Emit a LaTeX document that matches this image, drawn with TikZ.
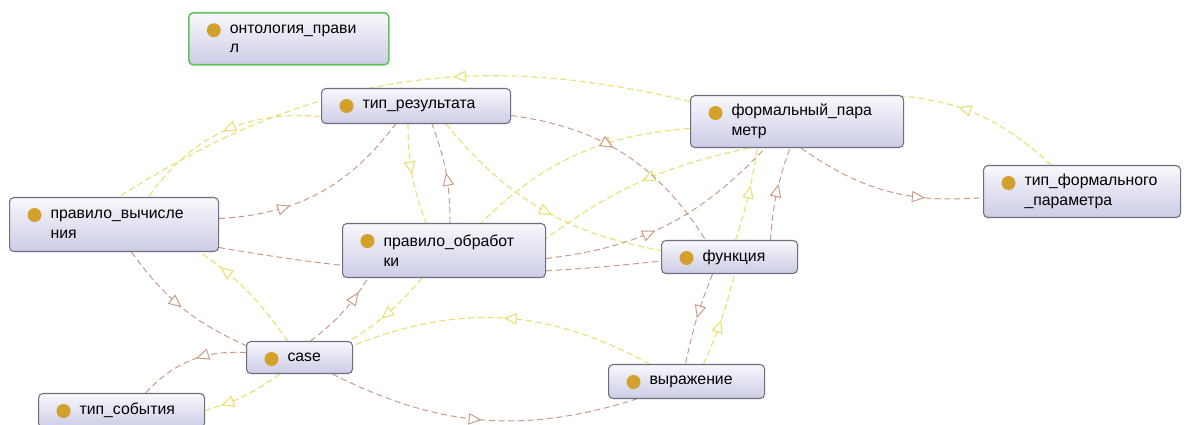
\documentclass[tikz,border=0pt]{standalone}
\usepackage{fontspec}
\setmainfont{Liberation Sans}
\usetikzlibrary{arrows.meta, decorations.markings}
\definecolor{dotgold}{RGB}{212,160,44}
\definecolor{boxtop}{RGB}{248,248,252}
\definecolor{boxbottom}{RGB}{204,204,230}
\definecolor{boxline}{RGB}{110,110,128}
\definecolor{rootline}{RGB}{96,196,96}
\definecolor{isabrown}{RGB}{200,154,134}
\definecolor{propyellow}{RGB}{236,224,118}
\newdimen\pxd \pxd=0.02cm
\pgfdeclarelayer{edges}
\pgfsetlayers{edges,main}
\hyphenpenalty=10000

\begin{document}
\begin{tikzpicture}[x=0.02cm, y=0.02cm,
    class box/.style={draw=boxline, line width=0.6pt, rounded corners=2.5pt,
        top color=boxtop, bottom color=boxbottom, inner sep=0pt,
        anchor=north west, align=left, font=\fontsize{9}{11.3}\selectfont,
        path picture={\fill[dotgold] ([shift={(25,-17.5)}]path picture bounding box.north west) circle (7);}},
    root box/.style={class box, draw=rootline, line width=0.9pt},
    isa edge/.style={isabrown, line width=0.55pt, dash pattern=on 3.5pt off 2pt},
    prop edge/.style={propyellow, line width=0.65pt, dash pattern=on 3.5pt off 2pt},
    tip at/.style={postaction={decorate}, decoration={markings,
        mark=at position #1 with {\arrow{Triangle[length=7.5pt, width=6.5pt, fill=white]}}}},
    tip at/.default=0.5]
    \useasboundingbox (0,0) rectangle (1187,-425);

    \node[root box, minimum width=200\pxd, minimum height=52\pxd, text width=118\pxd] (ontology) at (188,-12) {онтология\_прави\\л};
    \node[class box, minimum width=189\pxd, minimum height=35\pxd, text width=107\pxd] (restype) at (321,-88) {тип\_результата};
    \node[class box, minimum width=213\pxd, minimum height=52\pxd, text width=131\pxd] (formparam) at (690,-95) {формальный\_пара\\метр};
    \node[class box, minimum width=197\pxd, minimum height=52\pxd, text width=115\pxd] (formtype) at (983,-165) {тип\_формального\\\_параметра};
    \node[class box, minimum width=209\pxd, minimum height=54\pxd, text width=127\pxd] (calcrule) at (9,-197) {правило\_вычисле\\ния};
    \node[class box, minimum width=203\pxd, minimum height=54\pxd, text width=121\pxd] (procrule) at (342,-223) {правило\_обработ\\ки};
    \node[class box, minimum width=136\pxd, minimum height=33\pxd, text width=54\pxd] (func) at (661,-240) {функция};
    \node[class box, minimum width=106\pxd, minimum height=32\pxd, text width=24\pxd] (case) at (246,-341) {case};
    \node[class box, minimum width=156\pxd, minimum height=34\pxd, text width=74\pxd] (expr) at (608,-364) {выражение};
    \node[class box, minimum width=166\pxd, minimum height=34\pxd, text width=84\pxd] (eventtype) at (38,-393) {тип\_события};

    \begin{pgfonlayer}{edges}
    \fill[white] (0,0) rectangle (1187,-425);
    % yellow links
    \draw[prop edge, tip at] ([shift={(0,-10.5)}]restype.west) to[bend right=30] ([shift={(34.5,0)}]calcrule.north);
    \draw[prop edge, tip at=0.4] ([shift={(0,20)}]formparam.west) to[bend right=23] ([shift={(4.5,0)}]calcrule.north);
    \draw[prop edge, tip at] ([shift={(-8,0)}]restype.south) to[bend right=10] ([shift={(-18,0)}]procrule.north);
    \draw[prop edge, tip at=0.55] ([shift={(30,0)}]restype.south) to[bend right=20] ([shift={(0,6.5)}]func.west);
    \draw[prop edge, tip at=0.4] ([shift={(0,-7)}]formparam.west) to[bend right=20] ([shift={(37,0)}]procrule.north);
    \draw[prop edge, tip at=0.6] ([shift={(-22,0)}]procrule.south) to[bend left=8] ([shift={(-3,0)}]case.north east);
    \draw[prop edge, tip at] ([shift={(-48,0)}]formparam.south) to[bend right=12] ([shift={(0,12)}]procrule.east);
    \draw[prop edge, tip at=0.8] ([shift={(-12,0)}]case.north) to[bend right=10] ([shift={(86,0)}]calcrule.south);
    \draw[prop edge, tip at] ([shift={(-37,0)}]expr.north) to[bend right=25] ([shift={(0,12)}]case.east);
    \draw[prop edge, tip at=0.8] ([shift={(-20,0)}]case.south) to[bend left=10] (eventtype.east);
    \draw[prop edge, tip at] ([shift={(17,0)}]expr.north) to[bend right=5] ([shift={(5,0)}]func.south);
    \draw[prop edge, tip at=0.6] ([shift={(6,0)}]func.north) to[bend right=5] ([shift={(-40,0)}]formparam.south);
    \draw[prop edge, tip at=0.6] ([shift={(-31,0)}]formtype.north) to[bend right=20] ([shift={(-18,0)}]formparam.north east);
    % brown links
    \draw[isa edge, tip at=0.35] ([shift={(0,6)}]calcrule.east) to[bend right=25] ([shift={(-20.5,0)}]restype.south);
    \draw[isa edge, tip at] ([shift={(6,0)}]procrule.north) to[bend right=10] ([shift={(16,0)}]restype.south);
    \draw[isa edge, tip at=0.45] ([shift={(0,-9.5)}]restype.east) to[bend left=25] ([shift={(-24,0)}]func.north);
    \draw[isa edge, tip at=0.45] ([shift={(0,-8)}]procrule.east) to[bend right=20] ([shift={(-32,0)}]formparam.south);
    \draw[isa edge, tip at] ([shift={(17.5,0)}]calcrule.south) to[bend right=15] ([shift={(0,12)}]case.west);
    \draw[isa edge, tip at] ([shift={(0,-23)}]calcrule.east) to[bend right=8] ([shift={(0,-4)}]func.west);
    \draw[isa edge, tip at=0.8] ([shift={(11,0)}]case.north) to[bend right=10] ([shift={(-76,0)}]procrule.south);
    \draw[isa edge, tip at] ([shift={(33,0)}]case.south) to[bend right=22] ([shift={(-50,0)}]expr.south);
    \draw[isa edge, tip at=0.45] ([shift={(0,5)}]case.west) to[bend right=25] ([shift={(24,0)}]eventtype.north);
    \draw[isa edge, tip at] ([shift={(-17,0)}]func.south) to[bend right=5] ([shift={(-1,0)}]expr.north);
    \draw[isa edge, tip at=0.6] ([shift={(41,0)}]func.north) to[bend left=8] ([shift={(-7,0)}]formparam.south);
    \draw[isa edge, tip at=0.7] ([shift={(4,0)}]formparam.south) to[bend right=20] ([shift={(0,-6)}]formtype.west);
    \end{pgfonlayer}
\end{tikzpicture}
\end{document}
